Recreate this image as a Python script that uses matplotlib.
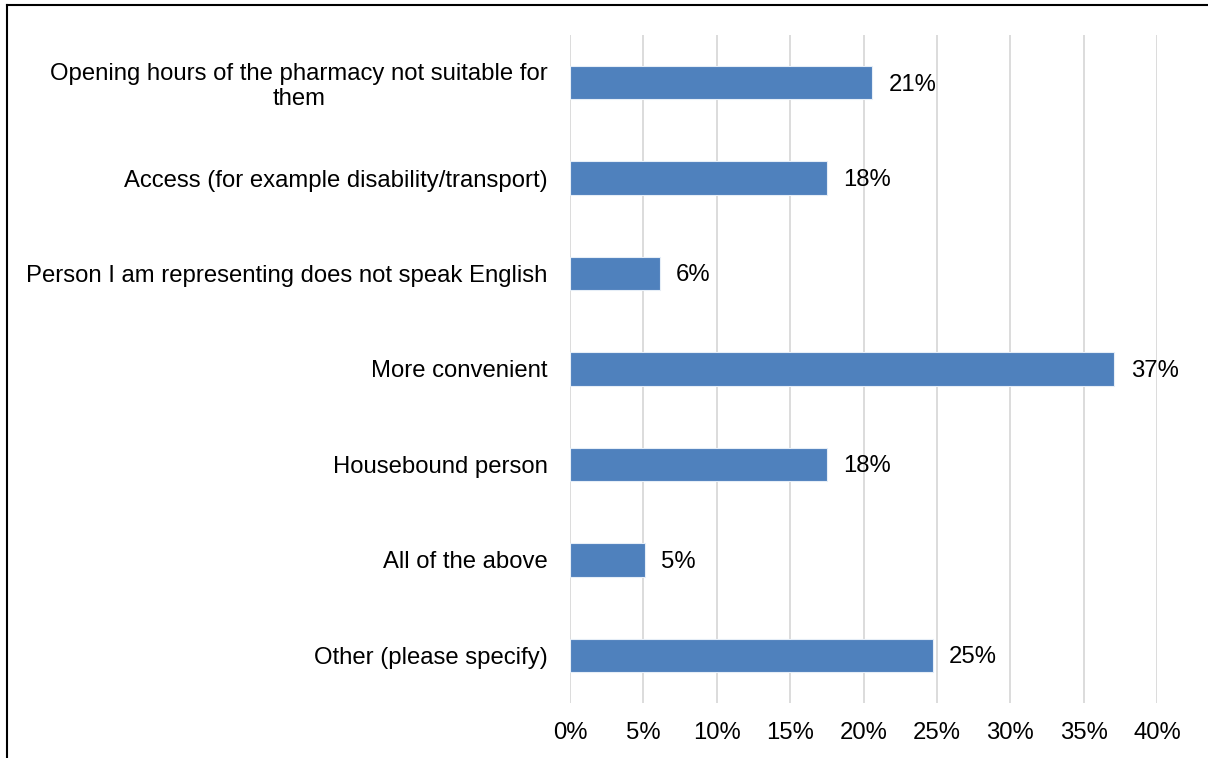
import matplotlib.pyplot as plt
from matplotlib.lines import Line2D

plt.rcParams['font.family'] = ['Liberation Sans', 'DejaVu Sans']

# --- DATA ---
categories = [
    "Opening hours of the pharmacy not suitable for\nthem",
    "Access (for example disability/transport)",
    "Person I am representing does not speak English",
    "More convenient",
    "Housebound person",
    "All of the above",
    "Other (please specify)",
]
values = [20.6, 17.5, 6.1, 37.1, 17.5, 5.1, 24.7]
value_labels = ["21%", "18%", "6%", "37%", "18%", "5%", "25%"]
x_ticks = [0, 5, 10, 15, 20, 25, 30, 35, 40]

FS = 17.2

fig = plt.figure(figsize=(12.08, 7.58), dpi=100)
ax = fig.add_axes([0.4719, 0.0726, 0.4859, 0.8813])

ypos = list(range(len(categories)))
bars = ax.barh(ypos, values, height=0.35, color='#4f81bd', edgecolor='#e6eef7',
               linewidth=0.8, zorder=3)

for b, lab in zip(bars, value_labels):
    ax.text(b.get_width() + 1.1, b.get_y() + b.get_height() / 2 + 0.02, lab,
            va='center', ha='left', fontsize=FS, color='black')

ax.set_ylim(len(categories) - 0.5, -0.5)
ax.set_xlim(0, 40)
ax.set_yticks(ypos)
ax.set_yticklabels(categories, fontsize=FS, multialignment='center', linespacing=1.15)
ax.set_xticks(x_ticks)
ax.set_xticklabels([f"{t}%" for t in x_ticks], fontsize=FS)
ax.tick_params(axis='both', length=0)
ax.tick_params(axis='y', pad=16)
ax.tick_params(axis='x', pad=14)
ax.xaxis.grid(True, color='#d9d9d9', linewidth=1.3, zorder=0)
for s in ax.spines.values():
    s.set_visible(False)

# outer frame (left and top edges visible)
fig.add_artist(Line2D([7 / 1208, 7 / 1208], [0, 1 - 5 / 758], color='black', lw=1.5,
                      transform=fig.transFigure))
fig.add_artist(Line2D([7 / 1208, 1], [1 - 5 / 758, 1 - 5 / 758], color='black', lw=1.5,
                      transform=fig.transFigure))

fig.savefig("out.png", dpi=100)
